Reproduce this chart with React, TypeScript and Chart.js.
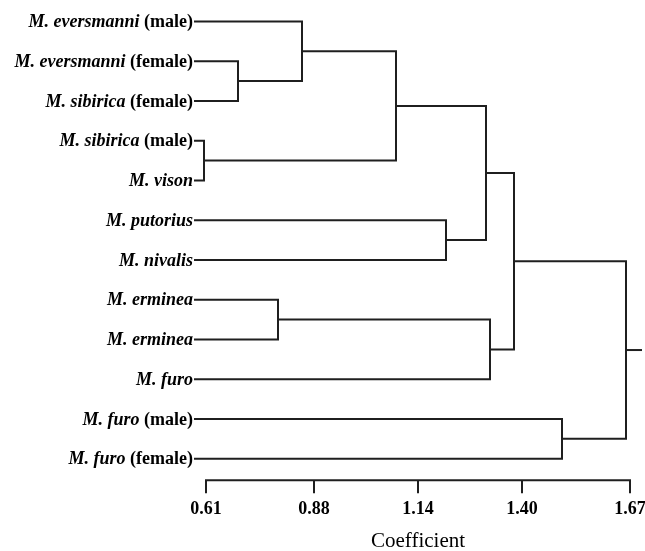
import React, { useEffect, useRef } from "react";
import { Chart, registerables } from "chart.js";

Chart.register(...registerables);

// Leaves (top to bottom): italic species part and upright suffix
const LEAF_SPECIES = [
  "M. eversmanni",
  "M. eversmanni",
  "M. sibirica",
  "M. sibirica",
  "M. vison",
  "M. putorius",
  "M. nivalis",
  "M. erminea",
  "M. erminea",
  "M. furo",
  "M. furo",
  "M. furo",
];
const LEAF_SUFFIX = [
  "(male)",
  "(female)",
  "(female)",
  "(male)",
  "",
  "",
  "",
  "",
  "",
  "",
  "(male)",
  "(female)",
];

// Merges: node index 12 + k joins MERGE_LEFT[k] and MERGE_RIGHT[k] at MERGE_HEIGHT[k]
const MERGE_LEFT = [1, 3, 0, 14, 5, 15, 7, 18, 17, 10, 20];
const MERGE_RIGHT = [2, 4, 12, 13, 6, 16, 8, 9, 19, 11, 21];
const MERGE_HEIGHT = [0.69, 0.605, 0.85, 1.085, 1.21, 1.31, 0.79, 1.32, 1.38, 1.5, 1.66];

const LEAF_HEIGHT = 0.58;
const ROOT_TAIL = 1.7;
const TICK_VALUES = [0.61, 0.88, 1.14, 1.4, 1.67];
const AXIS_TITLE = "Coefficient";

const LINE_COLOR = "#1f1f1f";
const LINE_WIDTH = 2;
const FONT_FAMILY = "'Liberation Serif', 'Times New Roman', serif";

function buildSegments() {
  const n = LEAF_SPECIES.length;
  const nodeY: number[] = [];
  const nodeH: number[] = [];
  for (let i = 0; i < n; i++) {
    nodeY.push(i);
    nodeH.push(LEAF_HEIGHT);
  }
  const segs: { x: number; y: number }[][] = [];
  MERGE_LEFT.forEach((l, k) => {
    const r = MERGE_RIGHT[k];
    const h = MERGE_HEIGHT[k];
    const y1 = nodeY[l];
    const y2 = nodeY[r];
    segs.push([
      { x: nodeH[l], y: y1 },
      { x: h, y: y1 },
      { x: h, y: y2 },
      { x: nodeH[r], y: y2 },
    ]);
    nodeY.push((y1 + y2) / 2);
    nodeH.push(h);
  });
  const root = nodeY.length - 1;
  segs.push([
    { x: nodeH[root], y: nodeY[root] },
    { x: ROOT_TAIL, y: nodeY[root] },
  ]);
  return segs;
}

const leafLabelPlugin = {
  id: "leafLabels",
  afterDatasetsDraw(chart: any) {
    const ctx = chart.ctx;
    const xs = chart.scales.x;
    const ys = chart.scales.y;
    const xRight = xs.getPixelForValue(LEAF_HEIGHT) - 1;
    ctx.save();
    ctx.fillStyle = "#000";
    ctx.textBaseline = "middle";
    ctx.textAlign = "right";
    LEAF_SPECIES.forEach((sp, i) => {
      const y = ys.getPixelForValue(i) + 1;
      let x = xRight;
      const suf = LEAF_SUFFIX[i];
      if (suf) {
        ctx.font = `bold 18px ${FONT_FAMILY}`;
        ctx.fillText(suf, x, y);
        x -= ctx.measureText(suf).width + ctx.measureText(" ").width;
      }
      ctx.font = `italic bold 18px ${FONT_FAMILY}`;
      ctx.fillText(sp, x, y);
    });
    // axis baseline spanning the tick range
    const yb = chart.chartArea.bottom;
    ctx.strokeStyle = LINE_COLOR;
    ctx.lineWidth = LINE_WIDTH;
    ctx.beginPath();
    ctx.moveTo(xs.getPixelForValue(TICK_VALUES[0]) - 1, yb);
    ctx.lineTo(xs.getPixelForValue(TICK_VALUES[TICK_VALUES.length - 1]) + 1, yb);
    ctx.stroke();
    ctx.restore();
  },
};

export default function App() {
  const ref = useRef<HTMLCanvasElement | null>(null);
  useEffect(() => {
    document.body.style.margin = "0";
    const segs = buildSegments();
    const chart = new Chart(ref.current as HTMLCanvasElement, {
      type: "scatter",
      data: {
        datasets: segs.map((s) => ({
          data: s,
          showLine: true,
          borderColor: LINE_COLOR,
          borderWidth: LINE_WIDTH,
          pointRadius: 0,
          fill: false,
          clip: false as any,
        })),
      },
      options: {
        animation: false,
        responsive: true,
        maintainAspectRatio: false,
        layout: { padding: { left: 194, right: 3, top: 0, bottom: -3 } },
        plugins: {
          legend: { display: false },
          tooltip: { enabled: false },
        },
        scales: {
          x: {
            type: "linear",
            min: LEAF_HEIGHT,
            max: ROOT_TAIL,
            afterBuildTicks: (axis: any) => {
              axis.ticks = TICK_VALUES.map((v) => ({ value: v }));
            },
            afterFit: (axis: any) => {
              axis.paddingLeft = 0;
              axis.paddingRight = 0;
            },
            border: { display: false },
            grid: {
              drawOnChartArea: false,
              drawTicks: true,
              tickLength: 13,
              color: LINE_COLOR,
              lineWidth: LINE_WIDTH,
            },
            ticks: {
              autoSkip: false,
              maxRotation: 0,
              padding: 5,
              color: "#000",
              font: { family: FONT_FAMILY, size: 18, weight: "bold" },
              callback: (v: any) => Number(v).toFixed(2),
            },
            title: {
              display: true,
              text: AXIS_TITLE,
              color: "#000",
              font: { family: FONT_FAMILY, size: 21 },
              padding: { top: 4, bottom: 0 },
            },
          },
          y: {
            type: "linear",
            display: false,
            reverse: true,
            min: -0.54,
            max: LEAF_SPECIES.length - 1 + 0.54,
          },
        },
      } as any,
      plugins: [leafLabelPlugin],
    });
    return () => chart.destroy();
  }, []);
  return (
    <div style={{ position: "absolute", left: 0, top: 0, width: 645, height: 551 }}>
      <canvas ref={ref} />
    </div>
  );
}
